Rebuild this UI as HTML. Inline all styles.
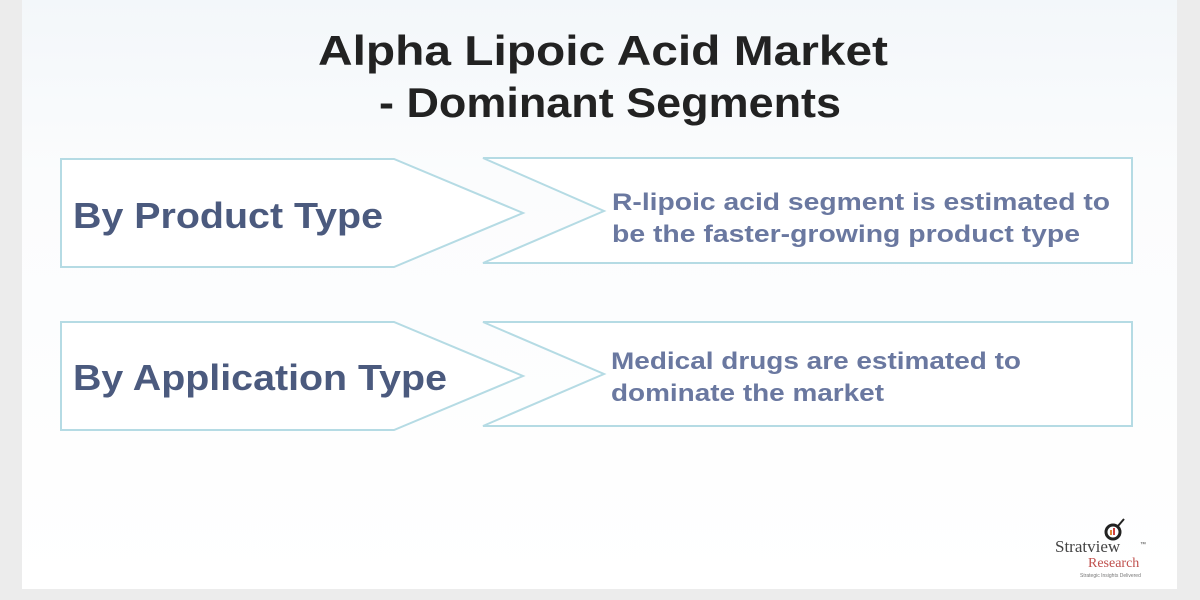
<!DOCTYPE html>
<html><head><meta charset="utf-8"><style>
body{margin:0;width:1200px;height:600px;background:#ececec;overflow:hidden;font-family:"Liberation Sans",Arial,sans-serif}
</style></head><body>
<svg width="1200" height="600" viewBox="0 0 1200 600" xmlns="http://www.w3.org/2000/svg" style="position:absolute;left:0;top:0">
<defs><linearGradient id="bg" x1="0" y1="0" x2="0" y2="1"><stop offset="0" stop-color="#f3f7fa"/><stop offset="0.3" stop-color="#fbfcfd"/><stop offset="1" stop-color="#ffffff"/></linearGradient></defs>
<rect x="0" y="0" width="1200" height="600" fill="#ececec"/>
<rect x="22" y="0" width="1155" height="589" fill="url(#bg)"/>
<g font-weight="bold" text-anchor="middle" fill="#222" font-size="42">
<text x="603" y="65" textLength="570" lengthAdjust="spacingAndGlyphs">Alpha Lipoic Acid Market</text>
<text x="610" y="117" textLength="462" lengthAdjust="spacingAndGlyphs">- Dominant Segments</text>
</g>
<g fill="#ffffff" stroke="#b5dbe4" stroke-width="2">
<polygon points="61,159 394,159 523,213 394,267 61,267"/>
<polygon points="483,158 1132,158 1132,263 483,263 604,211"/>
<polygon points="61,322 394,322 523,376 394,430 61,430"/>
<polygon points="483,322 1132,322 1132,426 483,426 604,374"/>
</g>
<g font-weight="bold" fill="#4b5a7e">
<text x="73" y="228" font-size="36" textLength="310" lengthAdjust="spacingAndGlyphs">By Product Type</text>
<text x="73" y="390" font-size="36" textLength="374" lengthAdjust="spacingAndGlyphs">By Application Type</text>
<g font-size="24" fill="#6a78a0">
<text x="612" y="210" textLength="498" lengthAdjust="spacingAndGlyphs">R-lipoic acid segment is estimated to</text>
<text x="612" y="242" textLength="468" lengthAdjust="spacingAndGlyphs">be the faster-growing product type</text>
<text x="611" y="369" textLength="410" lengthAdjust="spacingAndGlyphs">Medical drugs are estimated to</text>
<text x="611" y="401" textLength="273" lengthAdjust="spacingAndGlyphs">dominate the market</text>
</g>
</g>
<g>
<circle cx="1113" cy="532" r="7" fill="none" stroke="#222" stroke-width="3"/>
<rect x="1110" y="530" width="2" height="5" fill="#e08a3a"/><rect x="1113" y="528" width="2" height="7" fill="#d04040"/>
<line x1="1118" y1="526" x2="1124" y2="519" stroke="#222" stroke-width="2"/>
<text x="1055" y="552" font-family="Liberation Serif,serif" font-size="17" fill="#444">Stratview</text>
<text x="1140" y="546" font-size="6" fill="#444">™</text>
<text x="1088" y="567" font-family="Liberation Serif,serif" font-size="14" fill="#c0504d">Research</text>
<text x="1080" y="577" font-size="5" fill="#777">Strategic Insights Delivered</text>
</g>
</svg>
</body></html>
